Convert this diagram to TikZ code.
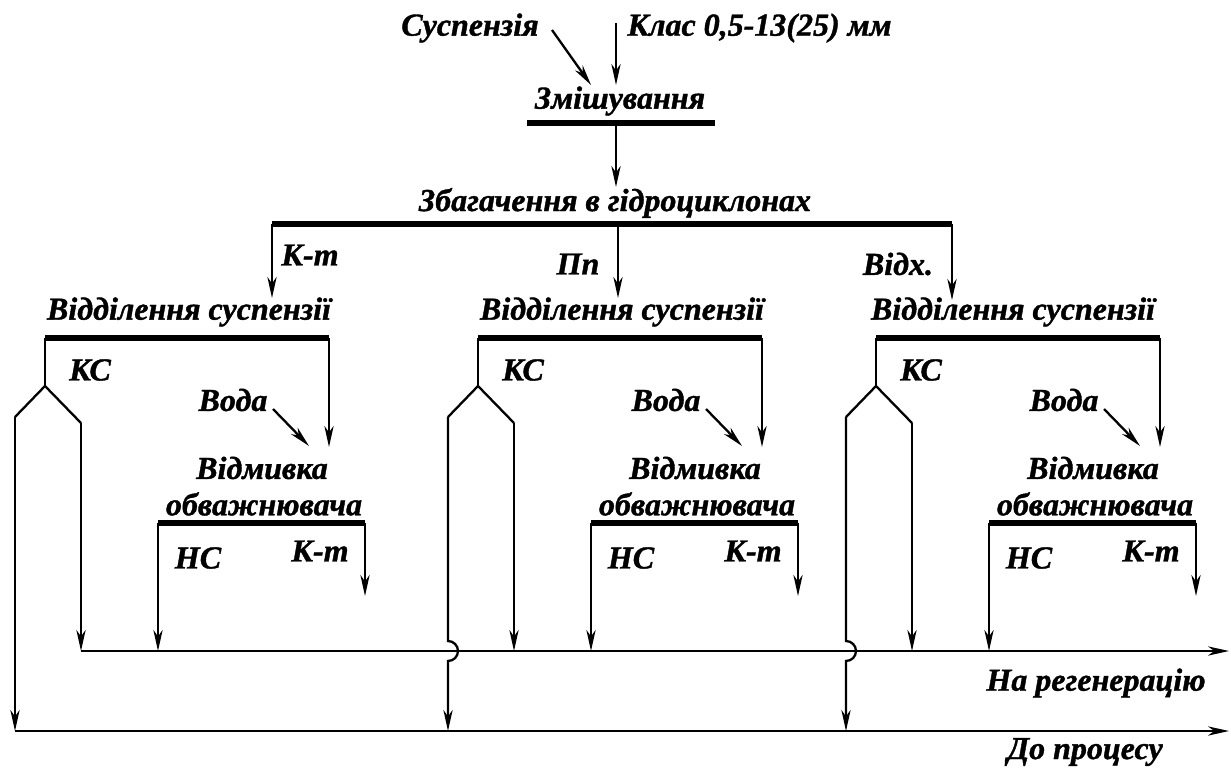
\documentclass[tikz,border=0pt]{standalone}
\usepackage{fontspec}
\setmainfont{Liberation Serif}
\newfontfamily\flowfont{Liberation Serif}[FakeBold=1.2]
\usetikzlibrary{arrows.meta, positioning, calc}
\tikzset{
  line/.style={draw=black, line width=1.15pt},
  arrow/.style={line, -{Stealth[length=10.5pt, width=4.6pt, inset=3.2pt]}},
  bar/.style={draw=black, line width=2.8pt},
  lbl/.style={font=\flowfont\fontsize{16}{18}\selectfont\bfseries\itshape, inner sep=0pt}
}

\begin{document}
\begin{tikzpicture}[x=0.5pt, y=-0.5pt]
  \useasboundingbox (0,0) rectangle (1231,771);
  % Feed and mixing
  \node[lbl] (susp) at (470,28) {Суспензія};
  \node[lbl, anchor=west] (klas) at (627,28) {Клас 0,5-13(25) мм};
  \node[lbl] (mix) at (620,101) {Змішування};
  \coordinate (mixL) at (527,123);
  \coordinate (mixR) at (715,123);
  \coordinate (mixO) at (616,123);
  \coordinate (suspS) at (552,30);
  \coordinate (suspE) at (591,85);
  \coordinate (klasS) at (616,23);
  \coordinate (klasE) at (616,85);
  \draw[bar] (mixL) -- (mixR);
  \draw[arrow] (suspS) -- (suspE);
  \draw[arrow] (klasS) -- (klasE);

  % Hydrocyclones
  \node[lbl] (hc) at (615,203) {Збагачення в гідроциклонах};
  \coordinate (hcIn) at (616,187);
  \coordinate (hcL) at (272,224);
  \coordinate (hcM) at (618,224);
  \coordinate (hcR) at (952,224);
  \draw[arrow] (mixO) -- (hcIn);
  \draw[bar] (hcL) -- (hcR);
  \draw[arrow] (hcL) -- (272,298);
  \draw[arrow] (hcM) -- (618,298);
  \draw[arrow] (hcR) -- (952,300);
  \node[lbl] (conc) at (310,255) {К-т};
  \node[lbl] (midd) at (578,264) {Пп};
  \node[lbl] (tail) at (898,264) {Відх.};

  % Three separation / washing lines
  \foreach \d/\lx/\n in {0/189/1, 433/622/2, 831/1013/3} {
    \node[lbl] (sep\n) at (\lx,312) {Відділення суспензії};
    \coordinate (sepL\n) at (45+\d,338);
    \coordinate (sepR\n) at (329+\d,338);
    \coordinate (apex\n) at (45+\d,386);
    \coordinate (brL\n) at (15+\d,417);
    \coordinate (brR\n) at (81+\d,423);
    \coordinate (regN\n) at (81+\d,651);
    \coordinate (washIn\n) at (329+\d,447);
    \coordinate (waterS\n) at (273+\d,409);
    \coordinate (waterE\n) at (309+\d,446);
    \coordinate (wbL\n) at (158+\d,523);
    \coordinate (wbR\n) at (365+\d,523);
    \coordinate (ktE\n) at (365+\d,596);
    \coordinate (ncE\n) at (158+\d,651);
    \draw[bar] (sepL\n) -- (sepR\n);
    \draw[line] (sepL\n) -- (apex\n);
    \draw[line] (brL\n) -- (apex\n) -- (brR\n);
    \draw[arrow] (brR\n) -- (regN\n);
    \node[lbl] (ks\n) at (90+\d,370) {КС};
    \draw[arrow] (sepR\n) -- (washIn\n);
    \node[lbl] (water\n) at (233+\d,400) {Вода};
    \draw[arrow] (waterS\n) -- (waterE\n);
    \node[lbl] (wash\n) at (262+\d,468) {Відмивка};
    \node[lbl] (washb\n) at (264+\d,504) {обважнювача};
    \draw[bar] (wbL\n) -- (wbR\n);
    \node[lbl] (nc\n) at (198+\d,558) {НС};
    \node[lbl] (kt\n) at (320+\d,551) {К-т};
    \draw[arrow] (wbR\n) -- (ktE\n);
    \draw[arrow] (wbL\n) -- (ncE\n);
  }

  % Outgoing streams
  \coordinate (procN1) at (15,731);
  \coordinate (procN2) at (448,731);
  \coordinate (procN3) at (846,731);
  \coordinate (regE) at (1229,651);
  \coordinate (procE) at (1229,731);
  \draw[arrow] (brL1) -- (procN1);
  \draw[arrow] (brL2) -- (448,641) arc[start angle=-90, end angle=90, radius=10] -- (procN2);
  \draw[arrow] (brL3) -- (846,641) arc[start angle=-90, end angle=90, radius=10] -- (procN3);
  \draw[arrow] (regN1) -- (regE);
  \draw[arrow] (procN1) -- (procE);
  \node[lbl] (reg) at (1096,683) {На регенерацію};
  \node[lbl] (proc) at (1085,752) {До процесу};
\end{tikzpicture}
\end{document}
